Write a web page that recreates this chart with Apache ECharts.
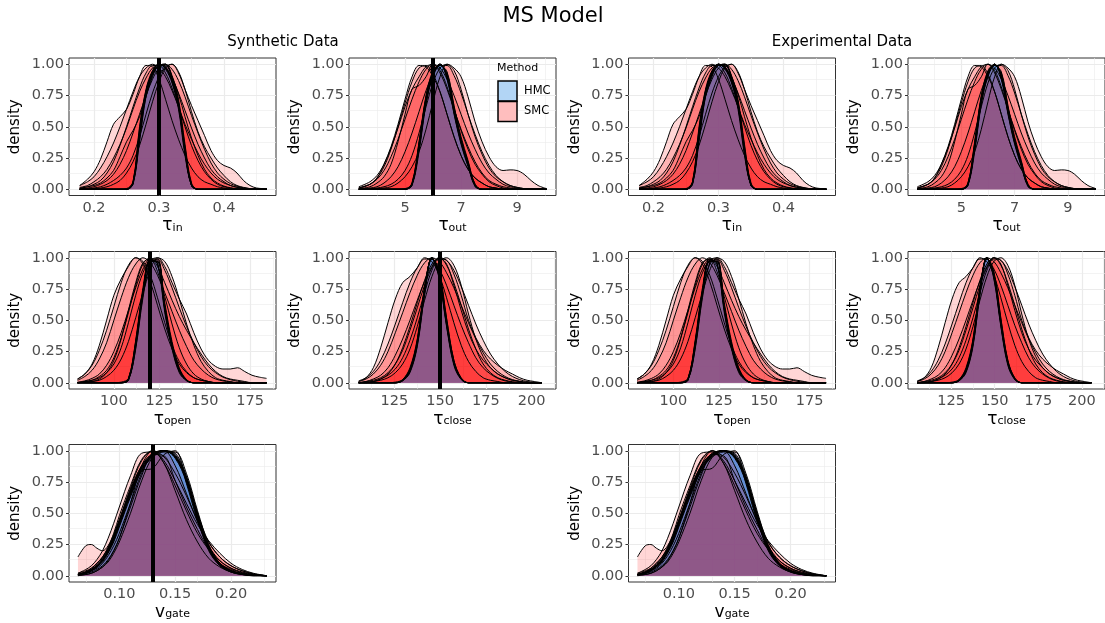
<!DOCTYPE html>
<html><head><meta charset="utf-8">
<script src="https://cdn.jsdelivr.net/npm/echarts@6/dist/echarts.min.js"></script>
<style>html,body{margin:0;padding:0;background:#fff}#c{width:1105px;height:623px}</style>
</head><body><div id="c"></div>
<script>
// ---------------- DATA ----------------
// tau_in
const tauInX = [0.178,0.19,0.20,0.21,0.22,0.23,0.24,0.25,0.26,0.27,0.28,0.29,0.30,0.31,0.32,0.33,0.34,0.35,0.36,0.37,0.38,0.39,0.40,0.41,0.42,0.43,0.44,0.45,0.46,0.466];
const tauInSMC = [
  [0.03,0.08,0.14,0.24,0.38,0.52,0.58,0.64,0.76,0.9,0.99,0.98,0.88,0.72,0.55,0.4,0.27,0.17,0.1,0.06,0.04,0.02,0.01,0,0,0,0,0,0,0],
  [0,0,0.01,0.02,0.04,0.07,0.11,0.17,0.27,0.42,0.6,0.77,0.9,0.98,1.0,0.93,0.8,0.67,0.55,0.43,0.31,0.23,0.19,0.17,0.13,0.07,0.03,0.01,0.005,0],
  [0.015,0.03,0.06,0.1,0.16,0.25,0.36,0.49,0.64,0.78,0.89,0.97,1.0,0.97,0.89,0.77,0.63,0.49,0.36,0.25,0.16,0.1,0.06,0.03,0.017,0.008,0.004,0,0,0],
  [0.03,0.06,0.1,0.17,0.26,0.37,0.5,0.64,0.78,0.9,0.97,1.0,0.97,0.9,0.79,0.66,0.52,0.4,0.29,0.2,0.13,0.08,0.05,0.03,0.015,0.007,0,0,0,0],
  [0.004,0.01,0.02,0.04,0.07,0.12,0.2,0.31,0.45,0.6,0.75,0.88,0.97,1.0,0.96,0.87,0.74,0.59,0.45,0.32,0.21,0.13,0.08,0.045,0.025,0.012,0.005,0,0,0],
  [0.01,0.02,0.03,0.05,0.09,0.15,0.26,0.38,0.47,0.58,0.74,0.9,0.99,0.99,0.9,0.76,0.58,0.41,0.27,0.16,0.09,0.05,0.025,0.012,0.005,0,0,0,0,0],
  [0.008,0.02,0.04,0.07,0.13,0.22,0.35,0.5,0.66,0.81,0.93,0.99,0.99,0.93,0.81,0.66,0.5,0.35,0.23,0.14,0.08,0.04,0.02,0.01,0,0,0,0,0,0],
  [0,0,0.005,0.01,0.02,0.04,0.07,0.13,0.22,0.35,0.52,0.7,0.86,0.97,1.0,0.94,0.8,0.62,0.46,0.34,0.25,0.17,0.11,0.06,0.03,0.015,0.005,0,0,0]
];
const tauInHMC = [
  [0,0,0,0,0,0,0, 0,0.05,0.45,0.78,0.93,1.0,0.98,0.88,0.68,0.3,0.03,0, 0,0,0,0,0,0,0,0,0,0,0],
  [0,0,0,0,0,0,0, 0,0.04,0.4,0.75,0.92,0.99,1.0,0.9,0.7,0.34,0.04,0, 0,0,0,0,0,0,0,0,0,0,0],
  [0,0,0,0,0,0,0, 0,0.06,0.5,0.8,0.95,1.0,0.96,0.85,0.64,0.27,0.03,0, 0,0,0,0,0,0,0,0,0,0,0],
  [0,0,0,0,0,0,0, 0,0.05,0.42,0.77,0.94,1.0,0.97,0.87,0.67,0.32,0.04,0, 0,0,0,0,0,0,0,0,0,0,0],
  [0,0,0,0,0,0,0, 0.005,0.06,0.48,0.79,0.93,0.99,1.0,0.89,0.69,0.31,0.03,0, 0,0,0,0,0,0,0,0,0,0,0],
  [0,0,0,0,0,0,0, 0,0.04,0.38,0.74,0.91,0.99,1.0,0.91,0.72,0.36,0.05,0, 0,0,0,0,0,0,0,0,0,0,0],
  [0,0,0,0,0,0,0, 0,0.05,0.44,0.78,0.94,1.0,0.97,0.86,0.66,0.29,0.03,0, 0,0,0,0,0,0,0,0,0,0,0],
  [0,0,0,0,0,0,0, 0,0.05,0.43,0.77,0.93,1.0,0.98,0.87,0.67,0.31,0.03,0, 0,0,0,0,0,0,0,0,0,0,0]
];
const tauInTrue = 0.3;
const tauInTicks = [0.2, 0.3, 0.4];
const tauInMinor = [0.25, 0.35, 0.45];

// tau_out
const tauOutX = [3.35,3.75,4.0,4.25,4.5,4.75,5.0,5.25,5.5,5.75,6.0,6.25,6.5,6.75,7.0,7.25,7.5,7.75,8.0,8.25,8.5,8.75,9.0,9.25,9.5,9.75,10.05];
const tauOutSMC = [
  [0.01,0.04,0.09,0.2,0.34,0.52,0.72,0.9,0.99,0.98,0.9,0.78,0.6,0.42,0.27,0.16,0.09,0.05,0.02,0.01,0,0,0,0,0,0,0],
  [0,0.005,0.01,0.02,0.04,0.08,0.15,0.27,0.45,0.66,0.85,0.97,1.0,0.97,0.9,0.74,0.54,0.38,0.26,0.18,0.15,0.155,0.15,0.12,0.07,0.03,0.005],
  [0.01,0.04,0.08,0.15,0.26,0.4,0.56,0.72,0.86,0.96,1.0,0.97,0.88,0.75,0.6,0.45,0.32,0.21,0.13,0.08,0.04,0.02,0.01,0.005,0,0,0],
  [0.02,0.06,0.11,0.2,0.33,0.49,0.66,0.8,0.9,0.98,1.0,0.93,0.8,0.64,0.48,0.34,0.22,0.13,0.07,0.04,0.02,0.01,0,0,0,0,0],
  [0,0.01,0.02,0.05,0.1,0.18,0.3,0.45,0.62,0.79,0.92,0.99,0.99,0.91,0.77,0.6,0.44,0.3,0.19,0.11,0.06,0.03,0.015,0.005,0,0,0],
  [0.005,0.02,0.05,0.1,0.2,0.38,0.6,0.8,0.83,0.9,1.0,0.95,0.82,0.64,0.47,0.32,0.2,0.12,0.06,0.03,0.01,0,0,0,0,0,0],
  [0,0,0.005,0.01,0.02,0.05,0.1,0.18,0.3,0.48,0.7,0.9,1.0,0.95,0.8,0.6,0.42,0.28,0.17,0.1,0.06,0.03,0.015,0.005,0,0,0],
  [0.01,0.04,0.09,0.18,0.32,0.5,0.69,0.86,0.97,0.99,0.92,0.78,0.6,0.42,0.27,0.16,0.09,0.05,0.02,0.01,0,0,0,0,0,0,0]
];
const tauOutHMC = [
  [0,0,0,0,0,0, 0,0.04,0.35,0.72,0.93,1.0,0.9,0.62,0.38,0.2,0.03,0, 0,0,0,0,0,0,0,0,0],
  [0,0,0,0,0,0, 0,0.03,0.3,0.68,0.91,0.99,0.93,0.66,0.4,0.22,0.04,0, 0,0,0,0,0,0,0,0,0],
  [0,0,0,0,0,0, 0,0.05,0.38,0.75,0.95,1.0,0.88,0.6,0.36,0.18,0.03,0, 0,0,0,0,0,0,0,0,0],
  [0,0,0,0,0,0, 0.005,0.04,0.33,0.7,0.92,1.0,0.91,0.64,0.39,0.21,0.03,0, 0,0,0,0,0,0,0,0,0],
  [0,0,0,0,0,0, 0,0.03,0.36,0.74,0.94,1.0,0.89,0.61,0.37,0.19,0.02,0, 0,0,0,0,0,0,0,0,0],
  [0,0,0,0,0,0, 0,0.04,0.32,0.69,0.9,0.99,0.94,0.67,0.42,0.23,0.04,0, 0,0,0,0,0,0,0,0,0],
  [0,0,0,0,0,0, 0,0.05,0.37,0.73,0.93,1.0,0.9,0.63,0.38,0.2,0.03,0, 0,0,0,0,0,0,0,0,0],
  [0,0,0,0,0,0, 0,0.04,0.34,0.71,0.93,1.0,0.91,0.63,0.39,0.2,0.03,0, 0,0,0,0,0,0,0,0,0]
];
const tauOutTrue = 6;
const tauOutTicks = [5, 7, 9];
const tauOutMinor = [4, 6, 8, 10];

// tau_open
const tauOpenX = [80,84,88,92,96,100,104,108,112,116,120,124,128,132,136,140,144,148,152,156,160,164,168,172,176,180,184];
const tauOpenSMC = [
  [0.03,0.07,0.15,0.3,0.5,0.7,0.83,0.93,1.0,0.97,0.86,0.68,0.48,0.3,0.17,0.09,0.04,0.02,0.01,0,0,0,0,0,0,0,0],
  [0,0.01,0.02,0.04,0.08,0.15,0.28,0.48,0.7,0.88,0.98,1.0,0.93,0.8,0.67,0.55,0.4,0.27,0.18,0.13,0.11,0.11,0.12,0.09,0.06,0.045,0.035],
  [0.02,0.05,0.1,0.19,0.32,0.5,0.68,0.84,0.95,1.0,0.96,0.86,0.72,0.57,0.42,0.29,0.18,0.11,0.06,0.03,0.015,0.007,0,0,0,0,0],
  [0.005,0.015,0.035,0.07,0.14,0.25,0.4,0.58,0.76,0.91,0.99,0.99,0.9,0.76,0.6,0.45,0.32,0.21,0.13,0.08,0.045,0.025,0.012,0.005,0,0,0],
  [0,0.01,0.02,0.05,0.1,0.2,0.36,0.56,0.78,0.95,1.0,0.93,0.8,0.66,0.53,0.42,0.32,0.23,0.15,0.09,0.05,0.03,0.02,0.01,0,0,0],
  [0.03,0.07,0.14,0.26,0.42,0.61,0.8,0.94,1.0,0.95,0.81,0.62,0.43,0.27,0.15,0.08,0.04,0.02,0.01,0,0,0,0,0,0,0,0],
  [0,0.005,0.01,0.02,0.05,0.1,0.19,0.33,0.52,0.72,0.9,1.0,0.97,0.85,0.67,0.47,0.3,0.17,0.09,0.04,0.02,0.01,0,0,0,0,0],
  [0,0.005,0.01,0.03,0.08,0.18,0.35,0.58,0.8,0.96,0.99,0.89,0.69,0.47,0.28,0.15,0.07,0.03,0.01,0,0,0,0,0,0,0,0]
];
const tauOpenHMC = [
  [0,0,0,0,0,0, 0,0.02,0.3,0.72,0.97,0.97,0.6,0.3,0.1,0.02,0, 0,0,0,0,0,0,0,0,0,0],
  [0,0,0,0,0,0, 0,0.03,0.34,0.76,0.99,0.95,0.56,0.27,0.08,0.015,0, 0,0,0,0,0,0,0,0,0,0],
  [0,0,0,0,0,0, 0,0.02,0.27,0.68,0.95,0.99,0.64,0.33,0.12,0.025,0, 0,0,0,0,0,0,0,0,0,0],
  [0,0,0,0,0,0, 0,0.025,0.31,0.73,0.98,0.96,0.59,0.29,0.1,0.02,0, 0,0,0,0,0,0,0,0,0,0],
  [0,0,0,0,0,0, 0.005,0.035,0.33,0.74,0.98,0.96,0.58,0.28,0.09,0.02,0, 0,0,0,0,0,0,0,0,0,0],
  [0,0,0,0,0,0, 0,0.02,0.28,0.7,0.96,0.98,0.62,0.31,0.11,0.02,0, 0,0,0,0,0,0,0,0,0,0],
  [0,0,0,0,0,0, 0,0.03,0.32,0.73,0.97,0.97,0.6,0.3,0.1,0.02,0, 0,0,0,0,0,0,0,0,0,0],
  [0,0,0,0,0,0, 0,0.025,0.3,0.72,0.97,0.97,0.61,0.3,0.1,0.02,0, 0,0,0,0,0,0,0,0,0,0]
];
const tauOpenTrue = 120;
const tauOpenTicks = [100, 125, 150, 175];
const tauOpenMinor = [87.5, 112.5, 137.5, 162.5, 187.5];

// tau_close
const tauCloseX = [105.5,109.5,113.5,117.5,121.5,125.5,129.5,133.5,137.5,141.5,145.5,149.5,153.5,157.5,161.5,165.5,169.5,173.5,177.5,181.5,185.5,189.5,193.5,197.5,201.5,205.5];
const tauCloseSMC = [
  [0.01,0.04,0.12,0.28,0.48,0.67,0.8,0.85,0.92,1.0,0.97,0.86,0.68,0.48,0.3,0.17,0.09,0.04,0.02,0.01,0,0,0,0,0,0],
  [0,0.005,0.01,0.03,0.06,0.11,0.2,0.34,0.52,0.72,0.9,0.99,0.98,0.87,0.7,0.5,0.36,0.26,0.19,0.14,0.1,0.07,0.04,0.02,0.01,0],
  [0.01,0.03,0.07,0.14,0.25,0.4,0.56,0.72,0.86,0.96,1.0,0.97,0.88,0.76,0.62,0.48,0.35,0.24,0.15,0.09,0.05,0.025,0.012,0.005,0,0],
  [0,0.01,0.03,0.06,0.12,0.22,0.35,0.5,0.66,0.81,0.93,1.0,0.98,0.9,0.77,0.62,0.47,0.34,0.23,0.15,0.09,0.05,0.025,0.01,0.004,0],
  [0,0.01,0.02,0.04,0.08,0.15,0.26,0.42,0.6,0.78,0.92,1.0,0.95,0.78,0.58,0.4,0.27,0.18,0.12,0.07,0.04,0.02,0.01,0,0,0],
  [0.015,0.04,0.09,0.18,0.31,0.47,0.64,0.8,0.92,0.99,0.99,0.91,0.78,0.62,0.46,0.32,0.2,0.12,0.07,0.035,0.015,0.006,0,0,0,0],
  [0,0,0.01,0.02,0.04,0.08,0.15,0.27,0.45,0.66,0.85,0.97,1.0,0.94,0.78,0.55,0.35,0.21,0.12,0.07,0.04,0.02,0.01,0,0,0],
  [0,0.005,0.01,0.03,0.07,0.15,0.28,0.45,0.64,0.82,0.95,1.0,0.94,0.8,0.62,0.43,0.27,0.15,0.08,0.04,0.02,0.008,0,0,0,0]
];
const tauCloseHMC = [
  [0,0,0,0,0, 0,0.02,0.1,0.32,0.74,1.0,0.86,0.48,0.16,0.03,0, 0,0,0,0,0,0,0,0,0,0],
  [0,0,0,0,0, 0,0.015,0.08,0.29,0.7,0.99,0.89,0.52,0.18,0.035,0, 0,0,0,0,0,0,0,0,0,0],
  [0,0,0,0,0, 0,0.025,0.12,0.35,0.77,1.0,0.83,0.45,0.14,0.025,0, 0,0,0,0,0,0,0,0,0,0],
  [0,0,0,0,0, 0,0.02,0.09,0.31,0.73,1.0,0.87,0.49,0.17,0.03,0, 0,0,0,0,0,0,0,0,0,0],
  [0,0,0,0,0, 0.005,0.025,0.11,0.34,0.76,1.0,0.84,0.46,0.15,0.03,0, 0,0,0,0,0,0,0,0,0,0],
  [0,0,0,0,0, 0,0.015,0.09,0.3,0.71,0.99,0.88,0.51,0.18,0.04,0, 0,0,0,0,0,0,0,0,0,0],
  [0,0,0,0,0, 0,0.02,0.1,0.33,0.75,1.0,0.85,0.47,0.16,0.03,0, 0,0,0,0,0,0,0,0,0,0],
  [0,0,0,0,0, 0,0.02,0.1,0.32,0.74,1.0,0.86,0.48,0.16,0.03,0, 0,0,0,0,0,0,0,0,0,0]
];
const tauCloseTrue = 150;
const tauCloseTicks = [125, 150, 175, 200];
const tauCloseMinor = [112.5, 137.5, 162.5, 187.5, 212.5];

// v_gate
const vGateX = [0.063,0.07,0.075,0.08,0.085,0.09,0.095,0.10,0.11,0.12,0.13,0.14,0.15,0.16,0.17,0.18,0.19,0.20,0.21,0.22,0.232];
const vGateSMC = [
  [0.15,0.24,0.25,0.22,0.2,0.24,0.34,0.48,0.72,0.93,1.0,0.95,0.82,0.64,0.44,0.27,0.15,0.08,0.04,0.015,0],
  [0.02,0.05,0.08,0.13,0.2,0.3,0.42,0.55,0.8,0.98,0.99,0.9,0.72,0.52,0.34,0.21,0.12,0.06,0.03,0.01,0],
  [0.01,0.02,0.04,0.06,0.1,0.16,0.24,0.34,0.58,0.82,0.97,1.0,0.95,0.78,0.5,0.27,0.15,0.08,0.04,0.015,0],
  [0.01,0.03,0.05,0.08,0.13,0.2,0.3,0.42,0.68,0.84,0.86,0.97,1.0,0.74,0.44,0.22,0.09,0.04,0.01,0,0],
  [0,0.01,0.02,0.04,0.07,0.12,0.2,0.3,0.58,0.88,1.0,0.9,0.68,0.45,0.27,0.14,0.07,0.03,0.01,0,0],
  [0.02,0.04,0.06,0.1,0.15,0.22,0.32,0.44,0.7,0.92,1.0,0.92,0.76,0.58,0.41,0.28,0.18,0.1,0.05,0.02,0],
  [0.01,0.02,0.03,0.05,0.08,0.13,0.2,0.3,0.55,0.8,0.97,0.96,0.76,0.55,0.37,0.21,0.1,0.05,0.02,0.005,0],
  [0.005,0.01,0.02,0.04,0.07,0.11,0.18,0.27,0.5,0.76,0.95,1.0,0.88,0.66,0.43,0.24,0.12,0.06,0.025,0.01,0]
];
const vGateHMC = [
  [0.01,0.03,0.05,0.08,0.13,0.2,0.3,0.42,0.66,0.86,0.97,1.0,0.96,0.78,0.48,0.22,0.09,0.04,0.015,0.005,0],
  [0.01,0.02,0.04,0.07,0.11,0.18,0.27,0.39,0.63,0.84,0.96,1.0,0.98,0.8,0.5,0.24,0.1,0.04,0.015,0.005,0],
  [0.01,0.03,0.05,0.09,0.14,0.22,0.32,0.44,0.68,0.88,0.98,1.0,0.94,0.75,0.45,0.2,0.08,0.03,0.01,0.005,0],
  [0.005,0.02,0.04,0.07,0.12,0.19,0.28,0.4,0.64,0.84,0.95,0.99,0.99,0.82,0.52,0.25,0.1,0.04,0.015,0.005,0],
  [0.01,0.03,0.06,0.1,0.15,0.23,0.33,0.45,0.69,0.88,0.98,1.0,0.95,0.76,0.46,0.21,0.08,0.03,0.01,0.005,0],
  [0.01,0.02,0.04,0.08,0.12,0.19,0.29,0.41,0.65,0.85,0.96,1.0,0.97,0.79,0.49,0.23,0.09,0.04,0.015,0.005,0],
  [0.005,0.02,0.05,0.08,0.13,0.21,0.31,0.43,0.67,0.87,0.97,1.0,0.95,0.77,0.47,0.22,0.09,0.035,0.012,0.004,0],
  [0.01,0.025,0.045,0.08,0.12,0.2,0.3,0.42,0.66,0.86,0.97,1.0,0.96,0.78,0.48,0.22,0.09,0.04,0.014,0.005,0]
];
const vGateTrue = 0.13;
const vGateTicks = [0.10, 0.15, 0.20];
const vGateMinor = [0.075, 0.125, 0.175, 0.225];

const densityTicks = [0, 0.25, 0.5, 0.75, 1];
const densityMinor = [0.125, 0.375, 0.625, 0.875];
const methods = ['HMC', 'SMC'];

// ---------------- LAYOUT / STYLE ----------------
const FONT = "'DejaVu Sans', sans-serif";
const colLeft = [69, 349, 628.5, 908];
const rowTop = [58, 251.5, 444.5];
const PW = 207, PH = 137.5;
const SMC_FILL = 'rgba(255,0,0,0.23)';
const HMC_FILL = 'rgba(50,145,240,0.24)';

const params = {
  in:    {x: tauInX, smc: tauInSMC, hmc: tauInHMC, truth: tauInTrue, ticks: tauInTicks, minor: tauInMinor, min: 0.1615, max: 0.48, dec: 1, sym: 'τ', sub: 'in'},
  out:   {x: tauOutX, smc: tauOutSMC, hmc: tauOutHMC, truth: tauOutTrue, ticks: tauOutTicks, minor: tauOutMinor, min: 3.0, max: 10.39, dec: 0, sym: 'τ', sub: 'out'},
  open:  {x: tauOpenX, smc: tauOpenSMC, hmc: tauOpenHMC, truth: tauOpenTrue, ticks: tauOpenTicks, minor: tauOpenMinor, min: 75.3, max: 189.2, dec: 0, sym: 'τ', sub: 'open'},
  close: {x: tauCloseX, smc: tauCloseSMC, hmc: tauCloseHMC, truth: tauCloseTrue, ticks: tauCloseTicks, minor: tauCloseMinor, min: 100.2, max: 213.3, dec: 0, sym: 'τ', sub: 'close'},
  gate:  {x: vGateX, smc: vGateSMC, hmc: vGateHMC, truth: vGateTrue, ticks: vGateTicks, minor: vGateMinor, min: 0.055, max: 0.2402, dec: 2, sym: 'v', sub: 'gate'}
};

const panels = [
  {key: 'in', row: 0, col: 0, truth: true},
  {key: 'out', row: 0, col: 1, truth: true},
  {key: 'in', row: 0, col: 2, truth: false},
  {key: 'out', row: 0, col: 3, truth: false},
  {key: 'open', row: 1, col: 0, truth: true},
  {key: 'close', row: 1, col: 1, truth: true},
  {key: 'open', row: 1, col: 2, truth: false},
  {key: 'close', row: 1, col: 3, truth: false},
  {key: 'gate', row: 2, col: 0, truth: true},
  {key: 'gate', row: 2, col: 2, truth: false}
];

const option = {
  animation: false,
  backgroundColor: '#fff',
  textStyle: {fontFamily: FONT},
  grid: [], xAxis: [], yAxis: [], series: [], graphic: []
};

function curve(k, xs, ys, fill) {
  return {
    type: 'line', xAxisIndex: k, yAxisIndex: k,
    data: xs.map((x, j) => [x, ys[j]]),
    smooth: 0.35, symbol: 'none', showSymbol: false, silent: true,
    lineStyle: {color: '#000', width: 1},
    areaStyle: {color: fill},
    z: 2
  };
}

const GRID_C = '#EBEBEB';
panels.forEach((pn, k) => {
  const p = params[pn.key];
  option.grid.push({
    left: colLeft[pn.col], top: rowTop[pn.row], width: PW, height: PH,
    show: true, borderColor: '#333', borderWidth: 1, backgroundColor: '#fff'
  });
  option.xAxis.push({
    type: 'value', gridIndex: k, min: p.min, max: p.max,
    axisLine: {show: false},
    axisTick: {show: true, length: 3, lineStyle: {color: '#333'}, customValues: p.ticks},
    axisLabel: {customValues: p.ticks, color: '#4D4D4D', fontSize: 14.5, margin: 5, fontFamily: FONT,
      formatter: v => Number(v).toFixed(p.dec)},
    splitLine: {show: false},
    name: '{m|' + p.sym + '}{s|' + p.sub + '}',
    nameLocation: 'middle', nameGap: 22,
    nameTextStyle: {rich: {
      m: {fontSize: 17, color: '#000', fontFamily: FONT, padding: [0, 0, 4, 0]},
      s: {fontSize: 11, color: '#000', fontFamily: FONT}
    }}
  });
  option.yAxis.push({
    type: 'value', gridIndex: k, min: -0.05, max: 1.05,
    axisLine: {show: false},
    axisTick: {show: true, length: 3, lineStyle: {color: '#333'}, customValues: densityTicks},
    axisLabel: {customValues: densityTicks, color: '#4D4D4D', fontSize: 14.5, margin: 5, fontFamily: FONT,
      formatter: v => Number(v).toFixed(2)},
    splitLine: {show: false},
    name: 'density', nameLocation: 'middle', nameGap: 46,
    nameTextStyle: {fontSize: 15, color: '#000', fontFamily: FONT}
  });
  const gl = [];
  p.minor.forEach(v => gl.push({xAxis: v, lineStyle: {color: GRID_C, width: 0.6, type: 'solid'}}));
  densityMinor.forEach(v => gl.push({yAxis: v, lineStyle: {color: GRID_C, width: 0.6, type: 'solid'}}));
  p.ticks.forEach(v => gl.push({xAxis: v, lineStyle: {color: GRID_C, width: 1.2, type: 'solid'}}));
  densityTicks.forEach(v => gl.push({yAxis: v, lineStyle: {color: GRID_C, width: 1.2, type: 'solid'}}));
  option.series.push({
    type: 'line', xAxisIndex: k, yAxisIndex: k, data: [], z: 1, silent: true,
    markLine: {z: 1, silent: true, symbol: ['none', 'none'], animation: false, label: {show: false},
      emphasis: {disabled: true}, data: gl}
  });
  const n = Math.max(p.smc.length, p.hmc.length);
  for (let i = 0; i < n; i++) {
    if (i < p.smc.length) option.series.push(curve(k, p.x, p.smc[i], SMC_FILL));
    if (i < p.hmc.length) option.series.push(curve(k, p.x, p.hmc[i], HMC_FILL));
  }
  if (pn.truth) {
    option.series.push({
      type: 'line', xAxisIndex: k, yAxisIndex: k, data: [], z: 10, silent: true,
      markLine: {z: 10, silent: true, symbol: ['none', 'none'], animation: false, label: {show: false},
        emphasis: {disabled: true},
        data: [{xAxis: p.truth, lineStyle: {color: '#000', width: 4, type: 'solid'}}]}
    });
  }
});

option.graphic = [
  {type: 'text', x: 553, y: 17, style: {text: 'MS Model', fontSize: 21, fill: '#000', fontFamily: FONT, textAlign: 'center', textVerticalAlign: 'middle'}},
  {type: 'text', x: 283, y: 42, style: {text: 'Synthetic Data', fontSize: 15, fill: '#000', fontFamily: FONT, textAlign: 'center', textVerticalAlign: 'middle'}},
  {type: 'text', x: 842, y: 42, style: {text: 'Experimental Data', fontSize: 15, fill: '#000', fontFamily: FONT, textAlign: 'center', textVerticalAlign: 'middle'}},
  {type: 'text', x: 497, y: 68, z: 20, style: {text: 'Method', fontSize: 11, fill: '#000', fontFamily: FONT, textAlign: 'left', textVerticalAlign: 'middle'}},
  {type: 'rect', z: 20, shape: {x: 498, y: 81, width: 19, height: 20}, style: {fill: '#B2D5F5', stroke: '#000', lineWidth: 1.5}},
  {type: 'rect', z: 20, shape: {x: 498, y: 101.5, width: 19, height: 20}, style: {fill: '#FFBEBE', stroke: '#000', lineWidth: 1.5}},
  {type: 'text', x: 524, y: 91, z: 20, style: {text: methods[0], fontSize: 11.5, fill: '#000', fontFamily: FONT, textAlign: 'left', textVerticalAlign: 'middle'}},
  {type: 'text', x: 524, y: 111.5, z: 20, style: {text: methods[1], fontSize: 11.5, fill: '#000', fontFamily: FONT, textAlign: 'left', textVerticalAlign: 'middle'}}
];

const chart = echarts.init(document.getElementById('c'), null, {renderer: 'canvas'});
chart.setOption(option);
</script></body></html>
